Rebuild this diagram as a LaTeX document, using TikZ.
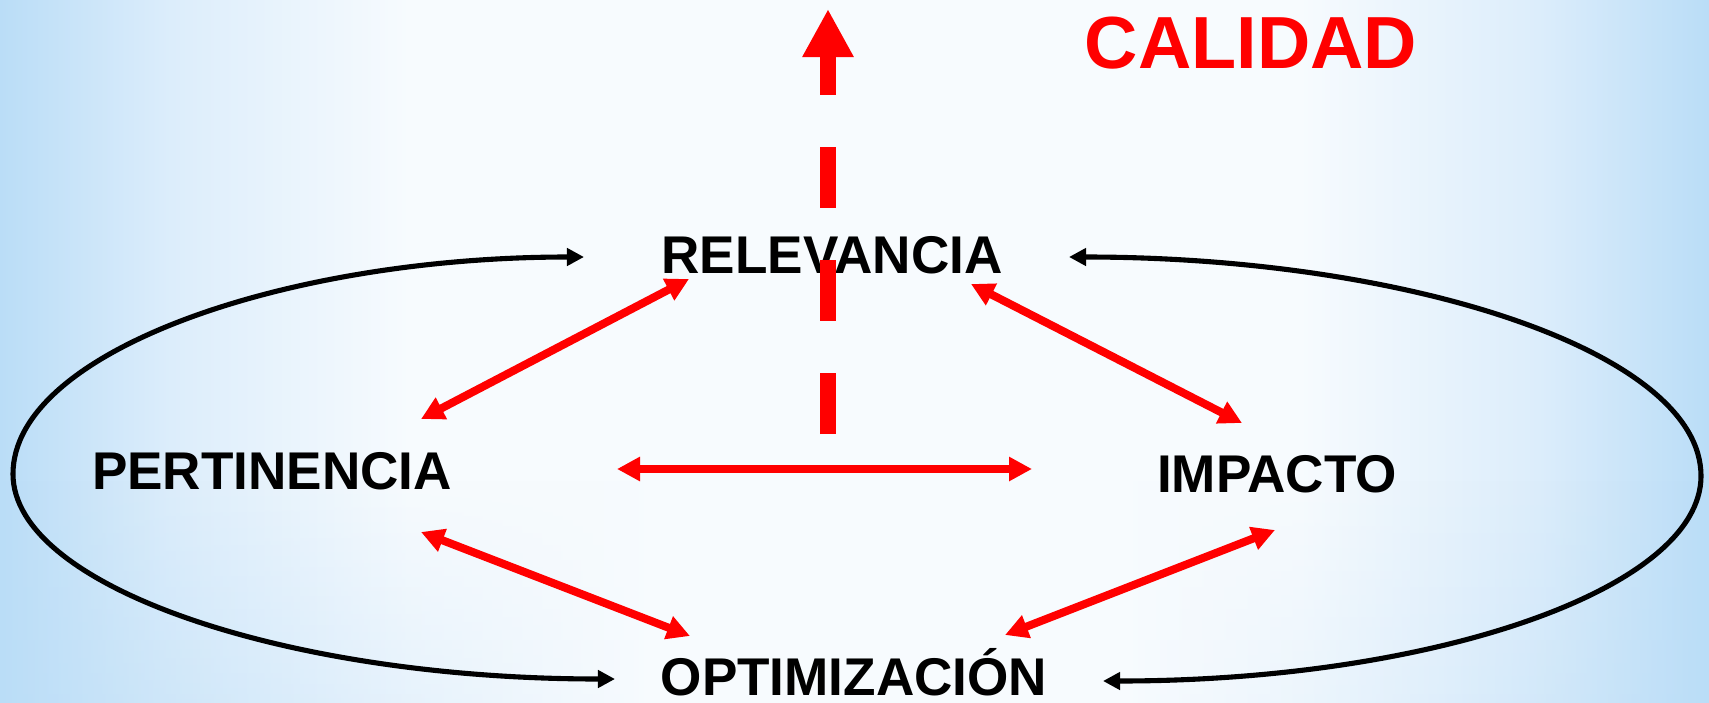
\documentclass[tikz,border=0pt]{standalone}
\usepackage{fontspec}
\setmainfont{Liberation Sans}
\usetikzlibrary{arrows.meta,fadings}

\definecolor{bgblue}{RGB}{186,221,247}
\definecolor{bgmid}{RGB}{220,237,251}
\definecolor{bglight}{RGB}{247,251,254}
\definecolor{arrowred}{RGB}{255,0,0}

%	background shadings
\pgfdeclarehorizontalshading{bgshade}{100bp}{color(0bp)=(bgblue); color(25bp)=(bgblue); color(30bp)=(bgmid); color(37bp)=(bglight); color(63bp)=(bglight); color(70bp)=(bgmid); color(75bp)=(bgblue); color(100bp)=(bgblue)}
\pgfdeclarehorizontalshading{bandshade}{100bp}{color(0bp)=(bgblue); color(25bp)=(bgblue); color(40bp)=(bgmid); color(60bp)=(bgmid); color(75bp)=(bgblue); color(100bp)=(bgblue)}
\pgfdeclarehorizontalshading{lowshade}{100bp}{color(0bp)=(bgblue); color(25bp)=(bgblue); color(36bp)=(bgmid); color(44bp)=(bglight); color(58bp)=(bglight); color(67bp)=(bgmid); color(75bp)=(bgblue); color(100bp)=(bgblue)}
\tikzfading[name=bandfade, top color=transparent!100, middle color=transparent!35, bottom color=transparent!100]
\tikzfading[name=lowfade, top color=transparent!100, bottom color=transparent!30]

\tikzset{
	word/.style = {font=\fontsize{15.1}{18}\selectfont\bfseries, inner sep=0pt, anchor=base},
	redarrow/.style = {arrowred, line width=2.28pt, {Triangle[length=0.23cm,width=0.23cm]}-{Triangle[length=0.23cm,width=0.23cm]}},
	blackarrow/.style = {black, line width=1.45pt, {Triangle[length=0.17cm,width=0.17cm]}-{Triangle[length=0.17cm,width=0.17cm]}}
}

\begin{document}
\begin{tikzpicture}[x = 0.01cm, y = -0.01cm]
	%	canvas
	\useasboundingbox (0, 0) rectangle (1709, 703);
	\shade[shading = bgshade] (0, 0) rectangle (1709, 703);
	\shade[shading = bandshade, path fading = bandfade] (0, 280) rectangle (1709, 480);
	\shade[shading = lowshade, path fading = lowfade] (0, 480) rectangle (1709, 703);
	
	%	words
	\node[word] (rel) at (832, 273) {RELEVANCIA};
	\node[word] (per) at (272, 489) {PERTINENCIA};
	\node[word] (imp) at (1277, 492) {IMPACTO};
	\node[word] (opt) at (854, 695) {OPTIMIZACIÓN};
	\node[word, arrowred, font = \fontsize{21}{26}\selectfont\bfseries] (cal) at (1251, 68) {CALIDAD};
	
	%	arrow ends
	\coordinate (rel-l) at (689, 279);
	\coordinate (rel-r) at (971, 284);
	\coordinate (per-t) at (421, 419);
	\coordinate (per-b) at (421, 532);
	\coordinate (per-r) at (617, 469);
	\coordinate (imp-t) at (1242, 423);
	\coordinate (imp-b) at (1275, 530);
	\coordinate (imp-l) at (1032, 469);
	\coordinate (opt-l) at (690, 636);
	\coordinate (opt-r) at (1005, 635);
	
	%	red links
	\draw[redarrow] (rel-l) -- (per-t);
	\draw[redarrow] (rel-r) -- (imp-t);
	\draw[redarrow] (per-b) -- (opt-l);
	\draw[redarrow] (imp-b) -- (opt-r);
	\draw[redarrow] (per-r) -- (imp-l);
	
	%	quality arrow
	\coordinate (q-foot) at (828, 434);
	\coordinate (q-tip) at (828, 9);
	\draw[arrowred, line width = 0.16cm, dash pattern = on 0.61cm off 0.52cm, -{Triangle[length = 0.48cm, width = 0.48cm]}] (q-foot) -- (q-tip);
	
	%	outer loop
	\coordinate (loop-lt) at (584, 257);
	\coordinate (loop-lb) at (615, 679);
	\coordinate (loop-l) at (13, 474);
	\coordinate (loop-rt) at (1069, 257);
	\coordinate (loop-rb) at (1103, 681);
	\coordinate (loop-r) at (1701, 476);
	\draw[blackarrow] (loop-lt) .. controls +(-300, 0) and +(0, -122) .. (loop-l)
		.. controls +(0, 112) and +(-330, 0) .. (loop-lb);
	\draw[blackarrow] (loop-rt) .. controls +(340, 0) and +(0, -124) .. (loop-r)
		.. controls +(0, 113) and +(330, 0) .. (loop-rb);
\end{tikzpicture}
\end{document}
